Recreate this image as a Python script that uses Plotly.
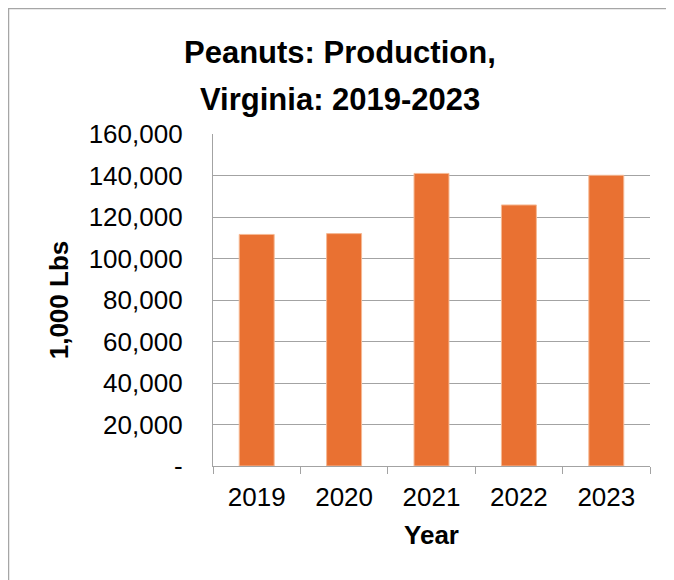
import plotly.graph_objects as go

years = ["2019", "2020", "2021", "2022", "2023"]
production = [111600, 112000, 141000, 125800, 140100]
y_tick_vals = [0, 20000, 40000, 60000, 80000, 100000, 120000, 140000, 160000]
y_tick_text = ["-", "20,000", "40,000", "60,000", "80,000", "100,000", "120,000", "140,000", "160,000"]

# the page body has an 8px margin, so the figure is drawn 8px in from the window edge
W, H = 666, 572
L, R, T, B = 205, 24, 126, 114
FONT = "Liberation Sans, Arial, sans-serif"
GRID = "#A3A3A3"


def px(x):
    return (x - L) / (W - L - R)


def py(y):
    return (H - B - y) / (H - T - B)


fig = go.Figure()
fig.add_trace(go.Bar(
    x=years,
    y=production,
    width=0.4,
    marker=dict(color="#E97132", line=dict(color="#F6B994", width=1)),
    hovertemplate="%{x}: %{y:,} (1,000 Lbs)<extra></extra>",
))

# two-line title, spaced like the original
fig.add_annotation(text="<b>Peanuts: Production,</b>", xref="paper", yref="paper",
                   x=px(332), y=py(44), xanchor="center", yanchor="middle",
                   showarrow=False, font=dict(size=31, color="#000000"))
fig.add_annotation(text="<b>Virginia: 2019-2023</b>", xref="paper", yref="paper",
                   x=px(332), y=py(91), xanchor="center", yanchor="middle",
                   showarrow=False, font=dict(size=31, color="#000000"))

# chart frame (left and top edges only visible)
fig.add_shape(type="line", xref="paper", yref="paper", x0=px(0.5), x1=px(0.5), y0=py(0.5), y1=py(H + 2),
              line=dict(color="#A6A6A6", width=1.5))
fig.add_shape(type="line", xref="paper", yref="paper", x0=px(0), x1=px(W + 2), y0=py(0.5), y1=py(0.5),
              line=dict(color="#A6A6A6", width=1.5))

fig.update_layout(
    width=W,
    height=H,
    margin=dict(l=L, r=R, t=T, b=B, pad=0),
    paper_bgcolor="white",
    plot_bgcolor="white",
    font=dict(family=FONT, color="#000000", size=26),
    showlegend=False,
    bargap=0.6,
)

fig.update_xaxes(
    type="category",
    showline=True,
    linecolor=GRID,
    linewidth=1.3,
    ticks="outside",
    tickson="boundaries",
    ticklen=7,
    tickcolor=GRID,
    tickwidth=1.3,
    ticklabelstandoff=8,
    tickfont=dict(size=26),
    showgrid=False,
    title=dict(text="<b>Year</b>", font=dict(size=26), standoff=14),
)
fig.update_yaxes(
    range=[0, 160000],
    tickvals=y_tick_vals,
    ticktext=y_tick_text,
    showline=True,
    linecolor=GRID,
    linewidth=1.3,
    showgrid=True,
    gridcolor=GRID,
    gridwidth=1.3,
    zeroline=False,
    ticks="",
    ticklabelstandoff=24,
    tickfont=dict(size=26),
    title=dict(text="<b>1,000 Lbs</b>", font=dict(size=26), standoff=12),
)

fig.write_html("out.html")
